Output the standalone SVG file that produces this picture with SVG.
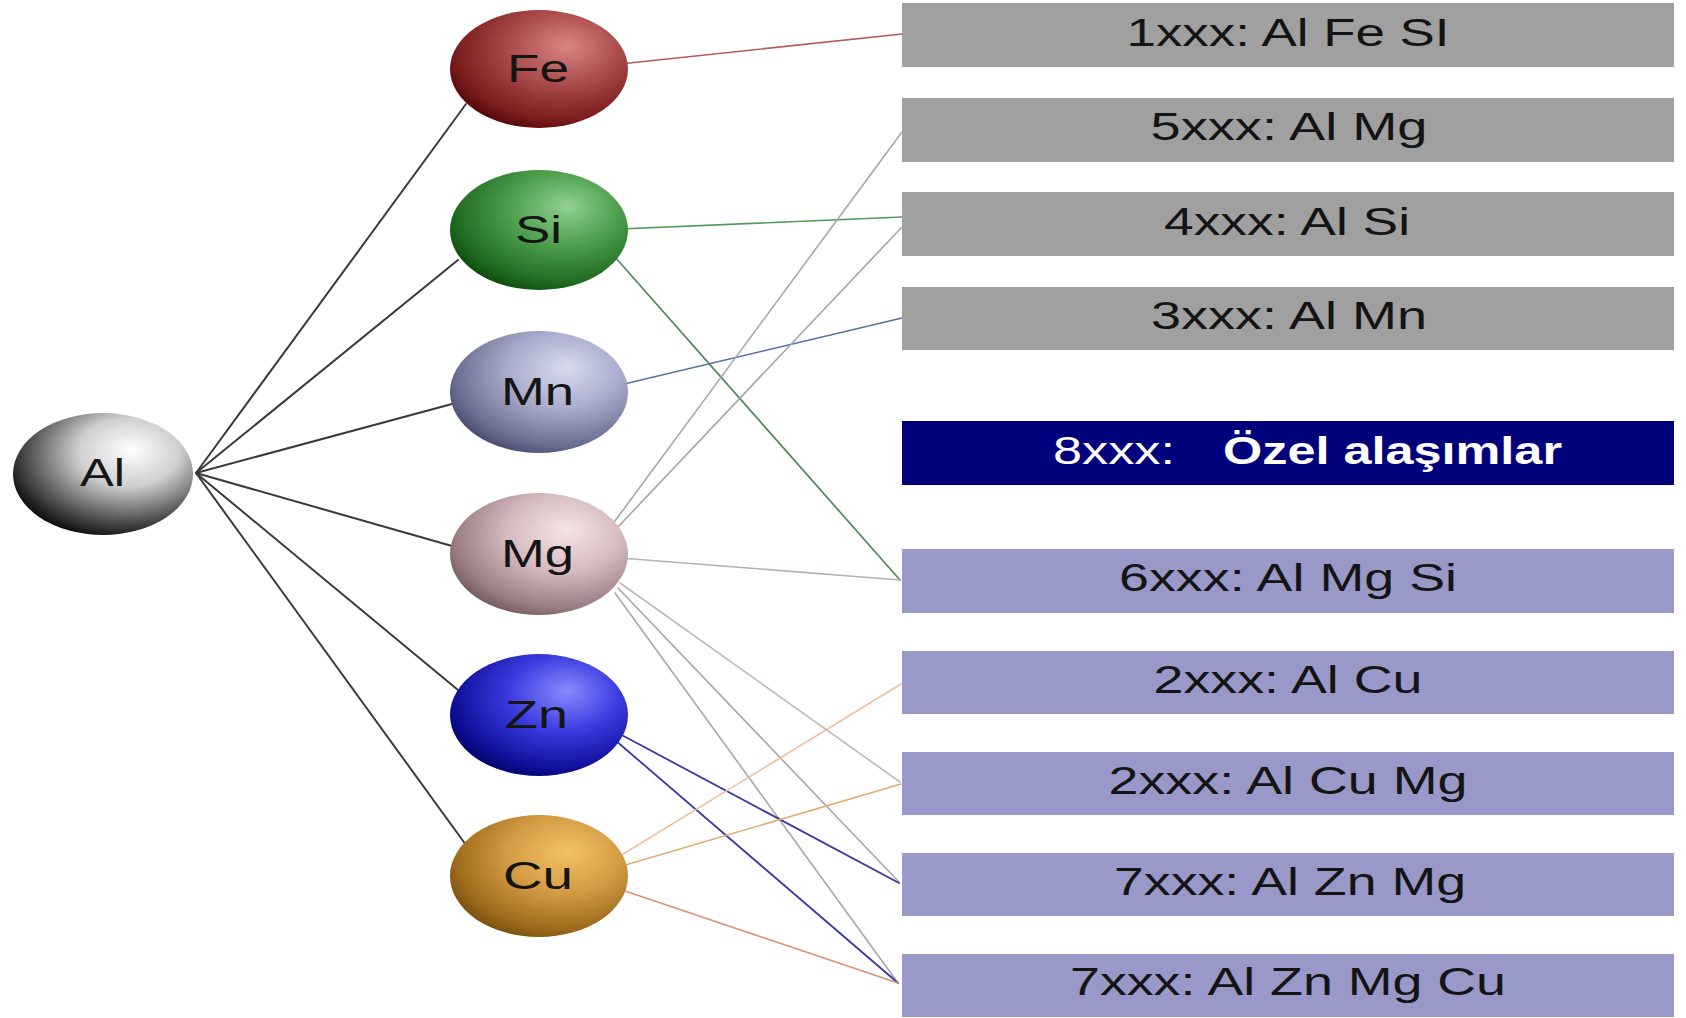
<svg xmlns="http://www.w3.org/2000/svg" width="1686" height="1018" viewBox="0 0 1686 1018">
  <style>
    .lbl { font-family: "Liberation Sans", Arial, sans-serif; font-size: 38px; fill: #151515; }
    .blbl { font-family: "Liberation Sans", Arial, sans-serif; font-size: 38px; fill: #141414; text-anchor: middle; }
    .gray { fill: #a0a0a0; }
    .lav { fill: #9898c9; }
    .navy { fill: #01017c; }
    .al { stroke: #3a3a3a; stroke-width: 2; }
  </style>
  <defs>
    <radialGradient id="gAl" cx="0.62" cy="0.35" r="0.7" fx="0.66" fy="0.3">
      <stop offset="0" stop-color="#ffffff"/>
      <stop offset="0.4" stop-color="#cfcfcf"/>
      <stop offset="0.8" stop-color="#4a4a4a"/>
      <stop offset="1" stop-color="#080808"/>
    </radialGradient>
    <radialGradient id="gFe" cx="0.62" cy="0.35" r="0.7" fx="0.66" fy="0.3">
      <stop offset="0" stop-color="#d98585"/>
      <stop offset="0.45" stop-color="#aa4a4a"/>
      <stop offset="0.85" stop-color="#7a1c1c"/>
      <stop offset="1" stop-color="#520808"/>
    </radialGradient>
    <radialGradient id="gSi" cx="0.62" cy="0.35" r="0.7" fx="0.66" fy="0.3">
      <stop offset="0" stop-color="#92d092"/>
      <stop offset="0.45" stop-color="#4c9e4c"/>
      <stop offset="0.85" stop-color="#216b21"/>
      <stop offset="1" stop-color="#0c4a0c"/>
    </radialGradient>
    <radialGradient id="gMn" cx="0.62" cy="0.35" r="0.7" fx="0.66" fy="0.3">
      <stop offset="0" stop-color="#d8dbef"/>
      <stop offset="0.45" stop-color="#a9accc"/>
      <stop offset="0.85" stop-color="#6a6f92"/>
      <stop offset="1" stop-color="#474c6e"/>
    </radialGradient>
    <radialGradient id="gMg" cx="0.62" cy="0.35" r="0.7" fx="0.66" fy="0.3">
      <stop offset="0" stop-color="#f4e4e6"/>
      <stop offset="0.45" stop-color="#d6bcc0"/>
      <stop offset="0.85" stop-color="#9a7e83"/>
      <stop offset="1" stop-color="#735a5f"/>
    </radialGradient>
    <radialGradient id="gZn" cx="0.62" cy="0.35" r="0.7" fx="0.66" fy="0.3">
      <stop offset="0" stop-color="#8a8aff"/>
      <stop offset="0.45" stop-color="#3a3ae0"/>
      <stop offset="0.85" stop-color="#10109a"/>
      <stop offset="1" stop-color="#02026a"/>
    </radialGradient>
    <radialGradient id="gCu" cx="0.62" cy="0.35" r="0.7" fx="0.66" fy="0.3">
      <stop offset="0" stop-color="#f2c266"/>
      <stop offset="0.45" stop-color="#d49c44"/>
      <stop offset="0.85" stop-color="#9c6b1c"/>
      <stop offset="1" stop-color="#74500f"/>
    </radialGradient>
  </defs>

  <g id="connectors" fill="none" stroke-linecap="round">
    <line class="al" x1="196" y1="473" x2="466" y2="104"/>
    <line class="al" x1="196" y1="473" x2="458" y2="260"/>
    <line class="al" x1="196" y1="473" x2="452" y2="404"/>
    <line class="al" x1="196" y1="473" x2="452" y2="546"/>
    <line class="al" x1="196" y1="473" x2="458" y2="690"/>
    <line class="al" x1="196" y1="473" x2="466" y2="845"/>
    <line x1="620" y1="64" x2="902" y2="34" stroke="#b45a5e" stroke-width="1.6"/>
    <line x1="620" y1="229" x2="902" y2="217" stroke="#4f9a58" stroke-width="1.6"/>
    <line x1="615" y1="257" x2="900" y2="580" stroke="#4f8a58" stroke-width="1.7"/>
    <line x1="620" y1="385" x2="902" y2="318" stroke="#5472a2" stroke-width="1.6"/>
    <line x1="612" y1="525" x2="902" y2="132" stroke="#aaa4a6" stroke-width="1.6"/>
    <line x1="617" y1="528" x2="902" y2="227" stroke="#aaa4a6" stroke-width="1.6"/>
    <line x1="620" y1="558" x2="900" y2="580" stroke="#b8b0b2" stroke-width="1.6"/>
    <line x1="620" y1="583" x2="900" y2="782" stroke="#c0b8b8" stroke-width="1.6"/>
    <line x1="618" y1="588" x2="899" y2="882" stroke="#aaa6a6" stroke-width="1.6"/>
    <line x1="615" y1="593" x2="898" y2="983" stroke="#aaa6a6" stroke-width="1.6"/>
    <line x1="618" y1="733" x2="899" y2="883" stroke="#3a3aa0" stroke-width="1.8"/>
    <line x1="615" y1="740" x2="898" y2="983" stroke="#3a3aa0" stroke-width="1.8"/>
    <line x1="620" y1="856" x2="901" y2="684" stroke="#ecc0a0" stroke-width="1.6"/>
    <line x1="622" y1="866" x2="901" y2="784" stroke="#e0ac70" stroke-width="1.6"/>
    <line x1="622" y1="890" x2="898" y2="983" stroke="#e0907a" stroke-width="1.6"/>
  </g>

  <g id="node-Al">
    <ellipse cx="103" cy="474" rx="90" ry="61" fill="url(#gAl)"/>
    <text class="lbl" x="80" y="486" textLength="45" lengthAdjust="spacingAndGlyphs">Al</text>
  </g>
  <g id="node-Fe">
    <ellipse cx="539" cy="69" rx="89" ry="59" fill="url(#gFe)"/>
    <text class="lbl" x="507" y="82" textLength="62" lengthAdjust="spacingAndGlyphs">Fe</text>
  </g>
  <g id="node-Si">
    <ellipse cx="539" cy="230" rx="89" ry="60" fill="url(#gSi)"/>
    <text class="lbl" x="515" y="243" textLength="47" lengthAdjust="spacingAndGlyphs">Si</text>
  </g>
  <g id="node-Mn">
    <ellipse cx="539" cy="392" rx="89" ry="61" fill="url(#gMn)"/>
    <text class="lbl" x="501" y="405" textLength="73" lengthAdjust="spacingAndGlyphs">Mn</text>
  </g>
  <g id="node-Mg">
    <ellipse cx="539" cy="554" rx="89" ry="61" fill="url(#gMg)"/>
    <text class="lbl" x="501" y="567" textLength="73" lengthAdjust="spacingAndGlyphs">Mg</text>
  </g>
  <g id="node-Zn">
    <ellipse cx="539" cy="715" rx="89" ry="61" fill="url(#gZn)"/>
    <text class="lbl" x="505" y="728" textLength="63" lengthAdjust="spacingAndGlyphs">Zn</text>
  </g>
  <g id="node-Cu">
    <ellipse cx="539" cy="876" rx="89" ry="61" fill="url(#gCu)"/>
    <text class="lbl" x="503" y="889" textLength="70" lengthAdjust="spacingAndGlyphs">Cu</text>
  </g>

  <g id="box-1xxx">
    <rect class="gray" x="902" y="3" width="772" height="64"/>
    <text class="blbl" x="1288" y="46" textLength="323" lengthAdjust="spacingAndGlyphs">1xxx: Al Fe SI</text>
  </g>
  <g id="box-5xxx">
    <rect class="gray" x="902" y="98" width="772" height="64"/>
    <text class="blbl" x="1289" y="140" textLength="277" lengthAdjust="spacingAndGlyphs">5xxx: Al Mg</text>
  </g>
  <g id="box-4xxx">
    <rect class="gray" x="902" y="192" width="772" height="64"/>
    <text class="blbl" x="1287" y="235" textLength="246" lengthAdjust="spacingAndGlyphs">4xxx: Al Si</text>
  </g>
  <g id="box-3xxx">
    <rect class="gray" x="902" y="287" width="772" height="63"/>
    <text class="blbl" x="1289" y="329" textLength="276" lengthAdjust="spacingAndGlyphs">3xxx: Al Mn</text>
  </g>
  <g id="box-8xxx">
    <rect class="navy" x="902" y="421" width="772" height="64"/>
    <text class="lbl" x="1053" y="464" style="fill:#ffffff" textLength="122" lengthAdjust="spacingAndGlyphs">8xxx:</text>
    <text class="lbl" x="1223" y="464" style="fill:#ffffff;font-weight:bold" textLength="339" lengthAdjust="spacingAndGlyphs">Özel alaşımlar</text>
  </g>
  <g id="box-6xxx">
    <rect class="lav" x="902" y="549" width="772" height="64"/>
    <text class="blbl" x="1288" y="591" textLength="338" lengthAdjust="spacingAndGlyphs">6xxx: Al Mg Si</text>
  </g>
  <g id="box-2xxx-a">
    <rect class="lav" x="902" y="651" width="772" height="63"/>
    <text class="blbl" x="1288" y="693" textLength="269" lengthAdjust="spacingAndGlyphs">2xxx: Al Cu</text>
  </g>
  <g id="box-2xxx-b">
    <rect class="lav" x="902" y="752" width="772" height="63"/>
    <text class="blbl" x="1288" y="794" textLength="359" lengthAdjust="spacingAndGlyphs">2xxx: Al Cu Mg</text>
  </g>
  <g id="box-7xxx-a">
    <rect class="lav" x="902" y="853" width="772" height="63"/>
    <text class="blbl" x="1290" y="895" textLength="352" lengthAdjust="spacingAndGlyphs">7xxx: Al Zn Mg</text>
  </g>
  <g id="box-7xxx-b">
    <rect class="lav" x="902" y="954" width="772" height="63"/>
    <text class="blbl" x="1288" y="995" textLength="436" lengthAdjust="spacingAndGlyphs">7xxx: Al Zn Mg Cu</text>
  </g>
</svg>
